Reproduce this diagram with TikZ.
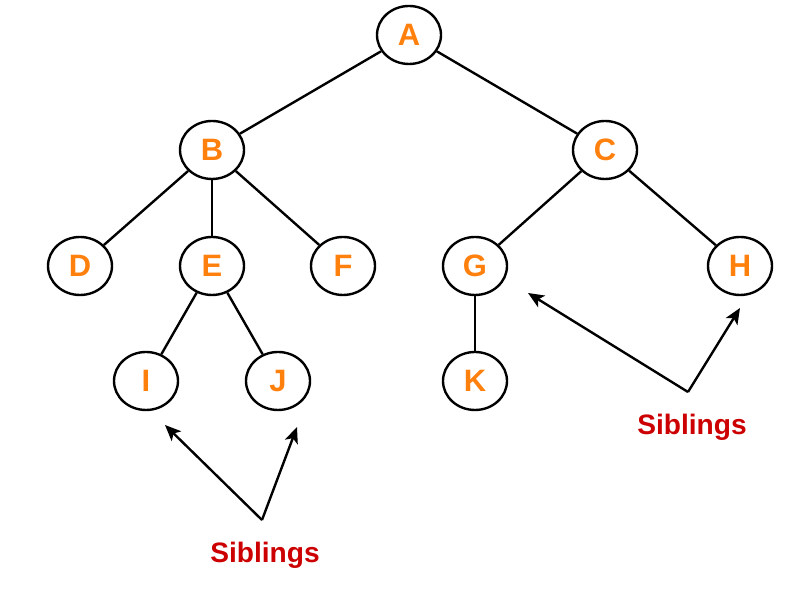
\documentclass[tikz,border=0pt]{standalone}
\usepackage{fontspec}
\setmainfont{Liberation Sans}
\usetikzlibrary{arrows.meta,shapes.geometric}
\definecolor{mycolor1}{rgb}{1.00000,0.50000,0.05000}
\definecolor{mycolor2}{rgb}{0.80000,0.00000,0.00000}

\tikzset{
  vertex/.style={draw,ellipse,line width=1.7pt,minimum width=1.6cm,minimum height=1.45cm,inner sep=0pt,
    font=\fontsize{22}{26}\selectfont\bfseries,text=mycolor1},
  edge/.style={line width=1.7pt},
  pointer/.style={line width=1.7pt,-{Stealth[length=4mm,width=3.4mm,inset=1mm]}},
  siblab/.style={font=\fontsize{20}{24}\selectfont\bfseries,text=mycolor2}
}

\begin{document}
\begin{tikzpicture}

\useasboundingbox (0,0) rectangle (20.2,14.875);

\node [vertex] (A) at (10.225,14.0) {A};
\node [vertex] (B) at (5.3,11.125) {B};
\node [vertex] (C) at (15.125,11.125) {C};
\node [vertex] (D) at (2.0,8.225) {D};
\node [vertex] (E) at (5.3,8.225) {E};
\node [vertex] (F) at (8.575,8.225) {F};
\node [vertex] (G) at (11.875,8.225) {G};
\node [vertex] (H) at (18.5,8.225) {H};
\node [vertex] (I) at (3.65,5.35) {I};
\node [vertex] (J) at (6.95,5.35) {J};
\node [vertex] (K) at (11.875,5.35) {K};

\draw [edge](A) -- (B);
\draw [edge](A) -- (C);
\draw [edge](B) -- (D);
\draw [edge](B) -- (E);
\draw [edge](B) -- (F);
\draw [edge](C) -- (G);
\draw [edge](C) -- (H);
\draw [edge](E) -- (I);
\draw [edge](E) -- (J);
\draw [edge](G) -- (K);

\coordinate (left) at (6.55,1.875);
\coordinate (right) at (17.2,5.075);
\coordinate (toI) at (4.125,4.25);
\coordinate (toJ) at (7.425,4.2);
\coordinate (toG) at (13.2,7.55);
\coordinate (toH) at (18.5,7.175);
\draw [pointer](left) -- (toI);
\draw [pointer](left) -- (toJ);
\draw [pointer](right) -- (toG);
\draw [pointer](right) -- (toH);
\node [siblab] (sib1) at (6.625,1.0) {Siblings};
\node [siblab] (sib2) at (17.3,4.2) {Siblings};
\end{tikzpicture}
\end{document}
